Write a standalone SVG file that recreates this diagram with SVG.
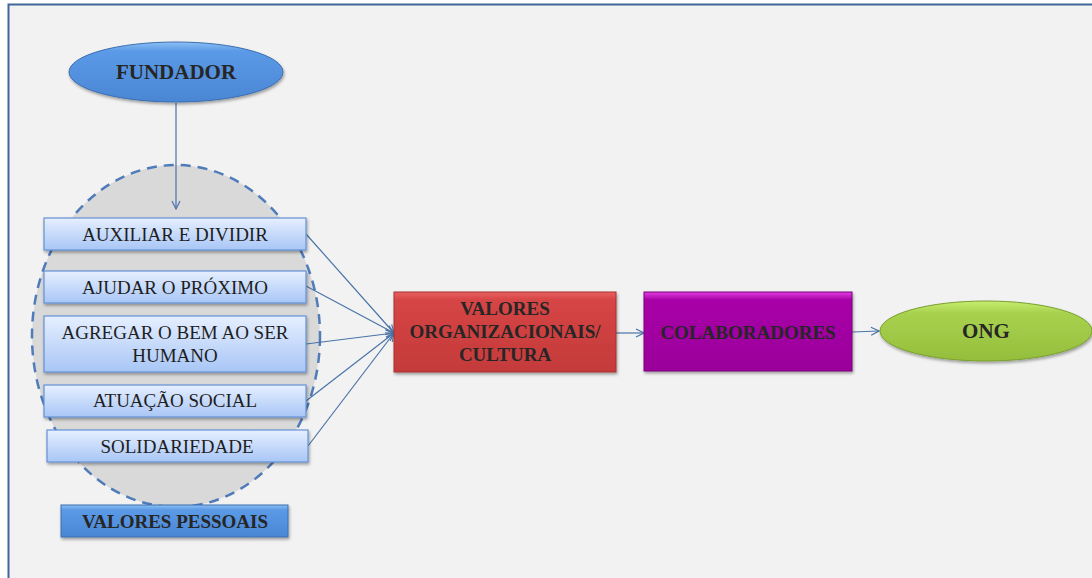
<svg xmlns="http://www.w3.org/2000/svg" width="1092" height="578" viewBox="0 0 1092 578">
<defs>
<linearGradient id="lb" x1="0" y1="0" x2="0" y2="1"><stop offset="0" stop-color="#e6efff"/><stop offset="1" stop-color="#a8c6f6"/></linearGradient>
<linearGradient id="db" x1="0" y1="0" x2="0" y2="1"><stop offset="0" stop-color="#8cc0f5"/><stop offset="0.15" stop-color="#5b9ae6"/><stop offset="1" stop-color="#4a86d4"/></linearGradient>
<linearGradient id="rd" x1="0" y1="0" x2="0" y2="1"><stop offset="0" stop-color="#e86060"/><stop offset="0.1" stop-color="#d64545"/><stop offset="1" stop-color="#c43a3a"/></linearGradient>
<linearGradient id="pu" x1="0" y1="0" x2="0" y2="1"><stop offset="0" stop-color="#e040e0"/><stop offset="0.1" stop-color="#a800a8"/><stop offset="1" stop-color="#9a009a"/></linearGradient>
<linearGradient id="gr" x1="0" y1="0" x2="0" y2="1"><stop offset="0" stop-color="#c8ec70"/><stop offset="0.2" stop-color="#a8d24e"/><stop offset="1" stop-color="#94be3c"/></linearGradient>
<filter id="sh" x="-10%" y="-10%" width="120%" height="130%"><feDropShadow dx="1" dy="2" stdDeviation="1.5" flood-color="#000" flood-opacity="0.35"/></filter>
<marker id="ah" markerWidth="10" markerHeight="10" refX="9" refY="5" orient="auto" markerUnits="userSpaceOnUse"><path d="M1,1 L9,5 L1,9" fill="none" stroke="#4a74a8" stroke-width="1.2"/></marker>
<style>
.box{fill:url(#lb);stroke:#6592d4;stroke-width:1.2;filter:url(#sh)}
.t{font-family:"Liberation Serif","Times New Roman",serif;font-size:19px;fill:#1e1e1e;text-anchor:middle}
.b{font-family:"Liberation Serif","Times New Roman",serif;font-size:19px;font-weight:bold;fill:#262626;text-anchor:middle}
.c{stroke:#4a74a8;stroke-width:1.2;fill:none;marker-end:url(#ah)}
</style>
</defs>
<rect x="0" y="0" width="1092" height="578" fill="#ffffff"/>
<rect x="8.5" y="4.5" width="1100" height="600" fill="#f2f2f2" stroke="#41679a" stroke-width="2"/>
<g id="valores-pessoais-group">
<ellipse cx="176" cy="336" rx="144" ry="171" fill="#d9d9d9" stroke="#4f7cb8" stroke-width="2.5" stroke-dasharray="10,7"/>
</g>
<g id="connectors">
<line class="c" x1="176" y1="103" x2="176" y2="209"/>
<line class="c" x1="306" y1="234" x2="394" y2="333"/>
<line class="c" x1="306" y1="286" x2="394" y2="333"/>
<line class="c" x1="306" y1="344" x2="394" y2="333"/>
<line class="c" x1="306" y1="401" x2="394" y2="333"/>
<line class="c" x1="308" y1="446" x2="394" y2="333"/>
<line class="c" x1="616" y1="333" x2="644" y2="333"/>
<line class="c" x1="852" y1="332" x2="879" y2="331"/>
</g>
<g id="fundador">
<ellipse cx="176" cy="72" rx="107" ry="30" fill="url(#db)" stroke="#3d6fb0" stroke-width="1" filter="url(#sh)"/>
<text class="b" x="176" y="79" style="font-size:21px">FUNDADOR</text>
</g>
<g id="auxiliar">
<rect class="box" x="44" y="218" width="262" height="32"/>
<text class="t" x="175" y="241">AUXILIAR E DIVIDIR</text>
</g>
<g id="ajudar">
<rect class="box" x="44" y="271" width="262" height="32"/>
<text class="t" x="175" y="294">AJUDAR O PRÓXIMO</text>
</g>
<g id="agregar">
<rect class="box" x="44" y="316" width="262" height="56"/>
<text class="t" x="175" y="339">AGREGAR O BEM AO SER</text>
<text class="t" x="175" y="362">HUMANO</text>
</g>
<g id="atuacao">
<rect class="box" x="44" y="385" width="262" height="32"/>
<text class="t" x="175" y="407">ATUAÇÃO SOCIAL</text>
</g>
<g id="solidariedade">
<rect class="box" x="47" y="430" width="261" height="32"/>
<text class="t" x="177" y="453">SOLIDARIEDADE</text>
</g>
<g id="valores-pessoais">
<rect x="61" y="505" width="227" height="32" fill="url(#db)" stroke="#3d6fb0" stroke-width="1" filter="url(#sh)"/>
<text class="b" x="175" y="528">VALORES PESSOAIS</text>
</g>
<g id="valores-organizacionais">
<rect x="394" y="292" width="222" height="80" fill="url(#rd)" stroke="#a83030" stroke-width="1" filter="url(#sh)"/>
<text class="b" x="505" y="315">VALORES</text>
<text class="b" x="505" y="338">ORGANIZACIONAIS/</text>
<text class="b" x="505" y="361">CULTURA</text>
</g>
<g id="colaboradores">
<rect x="644" y="292" width="208" height="79" fill="url(#pu)" stroke="#7a007a" stroke-width="1" filter="url(#sh)"/>
<text class="b" x="748" y="339">COLABORADORES</text>
</g>
<g id="ong">
<ellipse cx="986" cy="331" rx="106" ry="30" fill="url(#gr)" stroke="#7aa030" stroke-width="1" filter="url(#sh)"/>
<text class="b" x="986" y="338" style="font-size:21px">ONG</text>
</g>
</svg>
